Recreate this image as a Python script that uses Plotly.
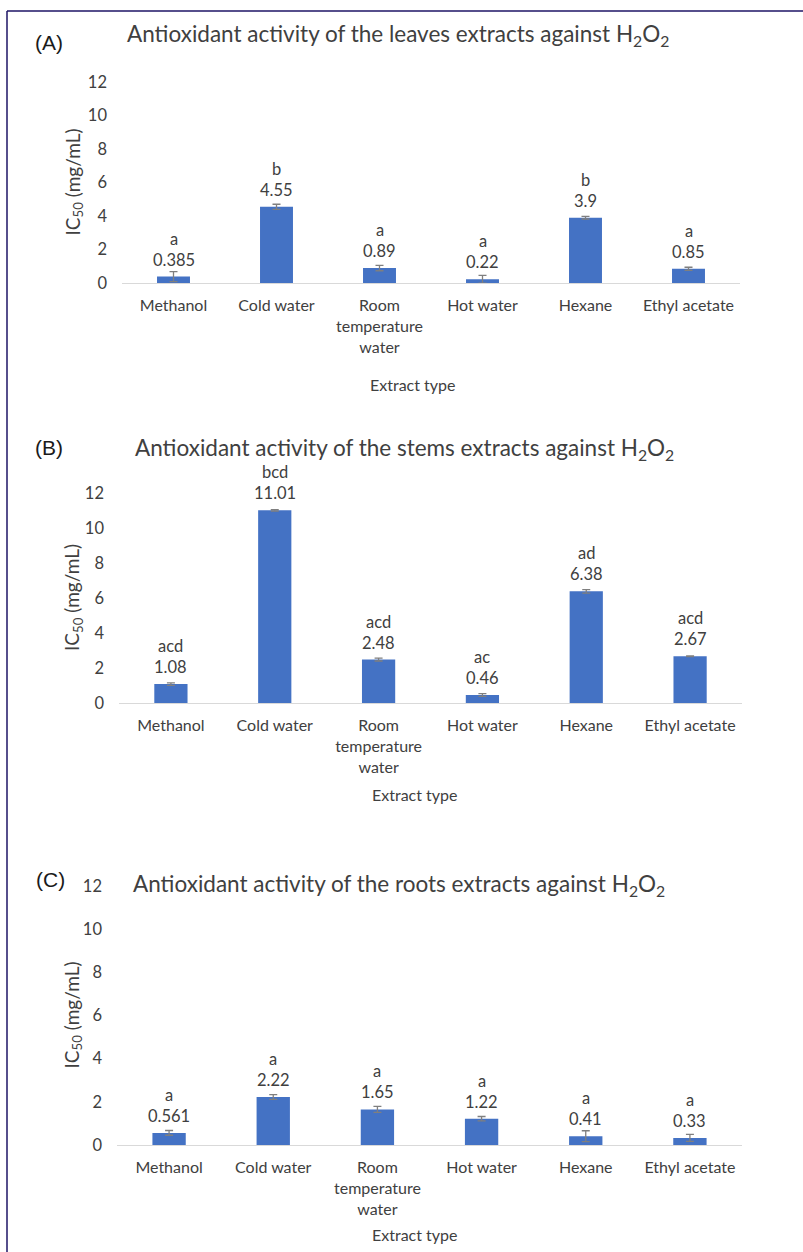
import plotly.graph_objects as go

W, H = 803, 1252

categories = ["Methanol", "Cold water", "Room<br>temperature<br>water", "Hot water", "Hexane", "Ethyl acetate"]

leaves_values = [0.385, 4.55, 0.89, 0.22, 3.9, 0.85]
leaves_errors = [0.30, 0.15, 0.16, 0.23, 0.08, 0.09]
leaves_letters = ["a", "b", "a", "a", "b", "a"]

stems_values = [1.08, 11.01, 2.48, 0.46, 6.38, 2.67]
stems_errors = [0.07, 0.04, 0.08, 0.08, 0.10, 0.02]
stems_letters = ["acd", "bcd", "acd", "ac", "ad", "acd"]

roots_values = [0.561, 2.22, 1.65, 1.22, 0.41, 0.33]
roots_errors = [0.11, 0.11, 0.14, 0.10, 0.25, 0.16]
roots_letters = ["a", "a", "a", "a", "a", "a"]

y_ticks = [0, 2, 4, 6, 8, 10, 12]

titles = [
    "Antioxidant activity of the leaves extracts against H<sub>2</sub>O<sub>2</sub>",
    "Antioxidant activity of the stems extracts against H<sub>2</sub>O<sub>2</sub>",
    "Antioxidant activity of the roots extracts against H<sub>2</sub>O<sub>2</sub>",
]
panel_tags = ["(A)", "(B)", "(C)"]

FONT = "Lato"
TXT = "#404040"
BAR = "#4472C4"

# panel pixel boxes: (x0, x1, ytop, ybottom)
boxes = [(122, 740, 82, 283), (119, 742, 493, 703), (117, 742, 886, 1145)]
title_pos = [(398, 35), (404, 449), (399, 885)]
tag_pos = [(49, 42), (49, 447), (50, 879)]
xtitle_pos = [(413, 384), (415, 795), (415, 1234)]

def px(x):
    return x / W

def py(y):
    return 1 - y / H

series = [
    (leaves_values, leaves_errors, leaves_letters),
    (stems_values, stems_errors, stems_letters),
    (roots_values, roots_errors, roots_letters),
]

fig = go.Figure()
annotations = []
layout_axes = {}

for i, ((vals, errs, letters), box) in enumerate(zip(series, boxes)):
    n = "" if i == 0 else str(i + 1)
    xa, ya = "x" + n, "y" + n
    fig.add_trace(go.Bar(
        x=categories, y=vals, xaxis=xa, yaxis=ya,
        marker=dict(color=BAR, line=dict(width=0)),
        width=0.32,
        error_y=dict(type="data", array=errs, color="#7f7f7f", thickness=1.3, width=4),
        showlegend=False,
    ))
    x0, x1, yt, yb = box
    layout_axes["xaxis" + n] = dict(
        domain=[px(x0), px(x1)], anchor=ya, type="category",
        showline=True, linecolor="#d9d9d9", linewidth=1.3,
        showgrid=False, zeroline=False, ticks="", automargin=False,
        tickfont=dict(family=FONT, size=16, color=TXT),
        ticklabelstandoff=8, fixedrange=True,
    )
    layout_axes["yaxis" + n] = dict(
        domain=[py(yb), py(yt)], anchor=xa, range=[0, 12],
        tickvals=y_ticks, showline=False, showgrid=False, zeroline=False,
        ticks="", automargin=False, tickfont=dict(family=FONT, size=16.5, color=TXT),
        ticklabelstandoff=14, fixedrange=True,
    )
    for c, v, l in zip(categories, vals, letters):
        annotations.append(dict(
            x=c, y=v, xref=xa, yref=ya, text=f"{v:g}", showarrow=False,
            yanchor="middle", yshift=17,
            font=dict(family=FONT, size=16.5, color=TXT)))
        annotations.append(dict(
            x=c, y=v, xref=xa, yref=ya, text=l, showarrow=False,
            yanchor="middle", yshift=38,
            font=dict(family=FONT, size=16.5, color=TXT)))
    tx, ty = title_pos[i]
    annotations.append(dict(
        x=px(tx), y=py(ty), xref="paper", yref="paper", text=titles[i],
        showarrow=False, xanchor="center", yanchor="middle",
        font=dict(family=FONT, size=22.5, color=TXT)))
    gx, gy = tag_pos[i]
    annotations.append(dict(
        x=px(gx), y=py(gy), xref="paper", yref="paper", text=panel_tags[i],
        showarrow=False, xanchor="center", yanchor="middle",
        font=dict(family="Liberation Sans", size=21, color="#1a1a1a")))
    ex, ey = xtitle_pos[i]
    annotations.append(dict(
        x=px(ex), y=py(ey), xref="paper", yref="paper", text="Extract type",
        showarrow=False, xanchor="center", yanchor="middle",
        font=dict(family=FONT, size=16, color=TXT)))
    annotations.append(dict(
        x=px(73), y=py((yt + yb) / 2), xref="paper", yref="paper",
        text="IC<sub>50</sub> (mg/mL)", textangle=-90,
        showarrow=False, xanchor="center", yanchor="middle",
        font=dict(family=FONT, size=19, color=TXT)))

shapes = [
    dict(type="line", xref="paper", yref="paper", x0=px(7), x1=px(803), y0=py(11), y1=py(11),
         line=dict(color="#1e1466", width=1.5)),
    dict(type="line", xref="paper", yref="paper", x0=px(7), x1=px(7), y0=py(11), y1=py(1252),
         line=dict(color="#1e1466", width=1.5)),
]

fig.update_layout(
    template="none",
    width=W, height=H,
    margin=dict(l=0, r=0, t=0, b=0, pad=0, autoexpand=False),
    paper_bgcolor="white", plot_bgcolor="white",
    annotations=annotations, shapes=shapes,
    bargap=0.68,
    **layout_axes,
)

fig.write_html(
    "out.html",
    config={"displayModeBar": False},
    post_script="document.body.style.margin='0';document.body.style.padding='0';document.body.style.overflow='hidden';",
)
